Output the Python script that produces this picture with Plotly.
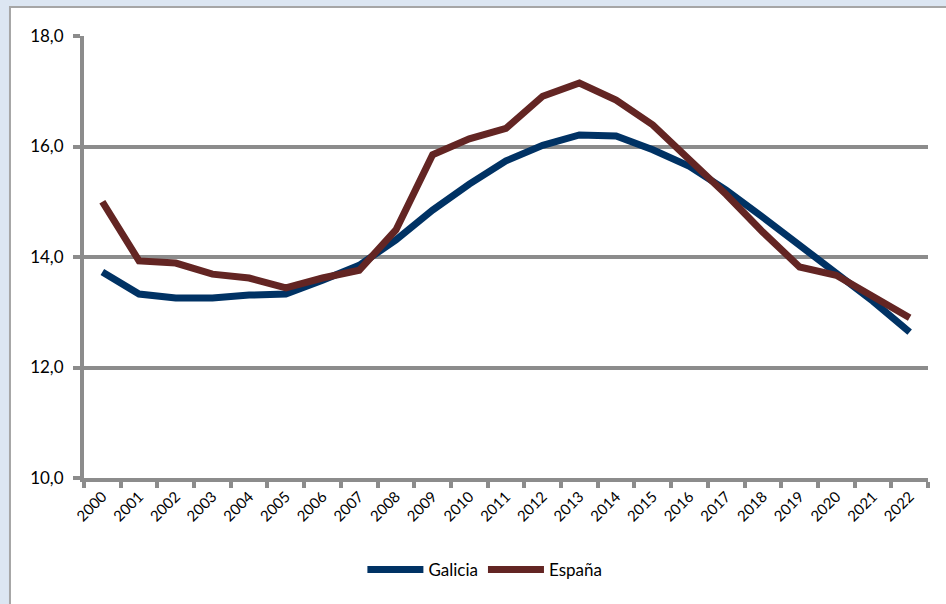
import plotly.graph_objects as go

years = [str(y) for y in range(2000, 2023)]

galicia = [13.73, 13.33, 13.26, 13.26, 13.31, 13.33, 13.58, 13.85, 14.31, 14.85,
           15.32, 15.74, 16.02, 16.21, 16.19, 15.94, 15.64, 15.21, 14.72, 14.22,
           13.73, 13.20, 12.64]
espana = [15.00, 13.93, 13.89, 13.69, 13.62, 13.44, 13.62, 13.76, 14.49, 15.85,
          16.14, 16.33, 16.91, 17.15, 16.84, 16.39, 15.76, 15.13, 14.45, 13.82,
          13.67, 13.30, 12.90]

y_ticks = [10, 12, 14, 16, 18]

GRID = "#8c8c8c"
FONT = "Lato, 'Open Sans', sans-serif"

fig = go.Figure()
fig.add_trace(go.Scatter(x=years, y=galicia, name="Galicia", mode="lines",
                         line=dict(color="#003264", width=7)))
fig.add_trace(go.Scatter(x=years, y=espana, name="España", mode="lines",
                         line=dict(color="#632523", width=7)))

# white chart panel with grey frame on a pale-blue page
fig.add_shape(type="rect", xref="paper", yref="paper",
              x0=-0.0877, x1=1.05, y0=-0.35, y1=1.0656,
              fillcolor="white", line=dict(color="#a6a6a6", width=2),
              layer="below")

fig.update_layout(
    width=946, height=604,
    margin=dict(l=84, r=18, t=36, b=126),
    paper_bgcolor="#dce6f2",
    plot_bgcolor="white",
    separators=",.",
    font=dict(family=FONT, size=15, color="black"),
    showlegend=True,
    legend=dict(orientation="h", x=0.475, xanchor="center", y=-0.208,
                yanchor="middle", font=dict(size=17, family=FONT),
                itemwidth=56, bgcolor="rgba(0,0,0,0)"),
    xaxis=dict(type="category", range=[-0.5, 22.5], tickson="boundaries",
               ticks="outside", ticklen=6, tickwidth=4, tickcolor=GRID,
               showline=True, linecolor=GRID, linewidth=4,
               showgrid=False, tickangle=-45,
               tickfont=dict(size=15, family=FONT, color="black")),
    yaxis=dict(range=[10, 18], tickvals=y_ticks, tickformat=".1f",
               ticks="outside", ticklen=7, tickwidth=4, tickcolor=GRID,
               showline=True, linecolor=GRID, linewidth=4,
               showgrid=True, gridcolor=GRID, gridwidth=4,
               zeroline=False, ticklabelstandoff=6,
               tickfont=dict(size=17, family=FONT, color="black")),
)

fig.write_html("out.html")
